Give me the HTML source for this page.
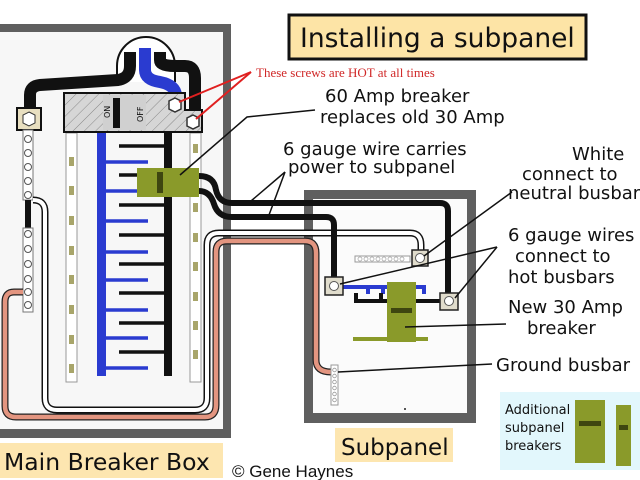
<!DOCTYPE html>
<html><head><meta charset="utf-8"><style>
html,body{margin:0;padding:0;background:#fff;}
svg{display:block}
text{font-family:"DejaVu Sans","Liberation Sans",sans-serif;fill:#111}
</style></head><body>
<svg width="640" height="480" viewBox="0 0 640 480" xmlns="http://www.w3.org/2000/svg">
<defs>
<pattern id="h" width="8" height="8" patternUnits="userSpaceOnUse" patternTransform="rotate(45)">
<rect width="8" height="8" fill="#d6d6d6"/><line x1="0" y1="0" x2="0" y2="8" stroke="#888" stroke-width="1"/>
</pattern>
</defs>
<!-- main box -->
<rect x="-10" y="24" width="241" height="414" fill="#5f5f5f"/>
<rect x="0" y="32" width="223" height="397" fill="#f7f7f7"/>
<!-- subpanel -->
<rect x="304" y="190" width="172" height="233" fill="#5f5f5f"/>
<rect x="313" y="199" width="154" height="214" fill="#fbfbfb"/>
<!-- top circle -->
<path d="M117 82 V66 A29 29 0 1 1 175 66 V82" fill="#fff" stroke="#111" stroke-width="2"/>
<!-- black incoming wires -->
<path d="M30 112 V95 Q30 86 40 85 L118 80 Q130 78 130 66 V52" fill="none" stroke="#111" stroke-width="12"/>
<path d="M160 52 V60 Q160 66 175 66 H185 Q195 66 195 78 V116" fill="none" stroke="#111" stroke-width="12"/>
<path d="M145 48 V70 Q145 80 160 82 Q175 85 176 95" fill="none" stroke="#2a3bd0" stroke-width="12"/>
<!-- neutral bar -->
<rect x="17" y="108" width="24" height="22" fill="#e8dfc0" stroke="#111" stroke-width="2"/>
<polygon points="29,112 35,115 35,123 29,126 23,123 23,115" fill="#fff" stroke="#333"/>
<rect x="23" y="130" width="10" height="70" fill="#fff" stroke="#777"/>
<g fill="none" stroke="#555"><circle cx="28" cy="139" r="3.5"/><circle cx="28" cy="153" r="3.5"/><circle cx="28" cy="167" r="3.5"/><circle cx="28" cy="181" r="3.5"/><circle cx="28" cy="195" r="3.5"/></g>
<rect x="25" y="200" width="6" height="28" fill="#111"/>
<rect x="23" y="228" width="10" height="84" fill="#fff" stroke="#777"/>
<g fill="none" stroke="#555"><circle cx="28" cy="234" r="3.5"/><circle cx="28" cy="249" r="3.5"/><circle cx="28" cy="264" r="3.5"/><circle cx="28" cy="279" r="3.5"/><circle cx="28" cy="292" r="3.5"/><circle cx="28" cy="305" r="3.5"/></g>
<!-- strips -->
<rect x="66" y="133" width="11" height="249" fill="#fff" stroke="#999"/>
<rect x="190" y="133" width="11" height="249" fill="#fff" stroke="#999"/>
<g fill="#a8a56a">
<rect x="69" y="157" width="5" height="9"/><rect x="69" y="186" width="5" height="9"/><rect x="69" y="216" width="5" height="9"/><rect x="69" y="246" width="5" height="9"/><rect x="69" y="275" width="5" height="9"/><rect x="69" y="305" width="5" height="9"/><rect x="69" y="335" width="5" height="9"/><rect x="69" y="364" width="5" height="9"/>
<rect x="193" y="144" width="5" height="9"/><rect x="193" y="203" width="5" height="9"/><rect x="193" y="233" width="5" height="9"/><rect x="193" y="262" width="5" height="9"/><rect x="193" y="292" width="5" height="9"/><rect x="193" y="321" width="5" height="9"/><rect x="193" y="350" width="5" height="9"/>
</g>
<!-- buses -->
<rect x="97" y="133" width="9" height="243" fill="#2a3bd0"/>
<g stroke="#2a3bd0" stroke-width="3.5">
<line x1="106" y1="162" x2="148" y2="162"/><line x1="106" y1="191" x2="148" y2="191"/><line x1="106" y1="221" x2="148" y2="221"/><line x1="106" y1="252" x2="148" y2="252"/><line x1="106" y1="280" x2="148" y2="280"/><line x1="106" y1="310" x2="148" y2="310"/><line x1="106" y1="338" x2="148" y2="338"/><line x1="106" y1="368" x2="148" y2="368"/>
</g>
<rect x="164" y="133" width="8" height="243" fill="#111"/>
<g stroke="#111" stroke-width="3.5">
<line x1="119" y1="146" x2="168" y2="146"/><line x1="119" y1="175" x2="168" y2="175"/><line x1="119" y1="205" x2="168" y2="205"/><line x1="119" y1="235" x2="168" y2="235"/><line x1="119" y1="264" x2="168" y2="264"/><line x1="119" y1="293" x2="168" y2="293"/><line x1="119" y1="323" x2="168" y2="323"/><line x1="119" y1="352" x2="168" y2="352"/>
</g>
<!-- main breaker -->
<path d="M64 93 H185 V110 H202 V132 H64 Z" fill="url(#h)" stroke="#111" stroke-width="2"/>
<rect x="103" y="95" width="43" height="35" fill="#d0d0d0"/>
<rect x="113" y="98" width="7" height="30" fill="#111"/>
<text x="0" y="0" font-size="8" transform="translate(110,118) rotate(-90)">ON</text>
<text x="0" y="0" font-size="8" transform="translate(143,122) rotate(-90)">OFF</text>
<polygon points="175,98 181,101 181,109 175,112 169,109 169,101" fill="#fff" stroke="#333" stroke-width="1.5"/>
<polygon points="193,115 199,118 199,126 193,129 187,126 187,118" fill="#fff" stroke="#333" stroke-width="1.5"/>
<!-- white wire -->
<path d="M33 200 Q45 200 45 212 V398 Q45 410 57 410 H195 Q207 410 207 398 V245 Q207 233 219 233 H410 Q421 233 421 245 V252" fill="none" stroke="#111" stroke-width="7"/>
<path d="M33 200 Q45 200 45 212 V398 Q45 410 57 410 H195 Q207 410 207 398 V245 Q207 233 219 233 H410 Q421 233 421 245 V252" fill="none" stroke="#fff" stroke-width="4"/>
<!-- copper wire -->
<path d="M23 292 H14 Q5 292 5 302 V406 Q5 417 16 417 H205 Q216 417 216 405 V252 Q216 241 227 241 H305 Q316 241 316 253 V360 Q316 372 331 372" fill="none" stroke="#222" stroke-width="7"/>
<path d="M23 292 H14 Q5 292 5 302 V406 Q5 417 16 417 H205 Q216 417 216 405 V252 Q216 241 227 241 H305 Q316 241 316 253 V360 Q316 372 331 372" fill="none" stroke="#e39580" stroke-width="4.5"/>
<!-- black feed wires -->
<path d="M199 176 Q214 176 216 190 Q219 203 232 203 H440 Q448 203 448 211 V296" fill="none" stroke="#111" stroke-width="6"/>
<path d="M199 191 Q210 191 214 204 Q218 217 232 217 H326 Q334 217 334 225 V280" fill="none" stroke="#111" stroke-width="6"/>
<!-- green breaker -->
<rect x="137" y="168" width="62" height="29" fill="#8a9a2a"/>
<rect x="157" y="172" width="6" height="21" fill="#3e4610"/>
<!-- subpanel internals -->
<rect x="355" y="256" width="55" height="6" fill="#fff" stroke="#999"/>
<g fill="none" stroke="#aaa" stroke-width="0.8"><circle cx="360" cy="259" r="2"/><circle cx="366" cy="259" r="2"/><circle cx="372" cy="259" r="2"/><circle cx="378" cy="259" r="2"/><circle cx="384" cy="259" r="2"/><circle cx="390" cy="259" r="2"/><circle cx="396" cy="259" r="2"/><circle cx="402" cy="259" r="2"/></g>
<rect x="331" y="365" width="7" height="40" fill="#fff" stroke="#999"/>
<g fill="none" stroke="#999" stroke-width="0.8"><circle cx="334.5" cy="370" r="1.8"/><circle cx="334.5" cy="376" r="1.8"/><circle cx="334.5" cy="382" r="1.8"/><circle cx="334.5" cy="388" r="1.8"/><circle cx="334.5" cy="394" r="1.8"/><circle cx="334.5" cy="400" r="1.8"/></g>
<path d="M343 287 H424 V294 M368 287 V294 M383 287 V294" fill="none" stroke="#2a3bd0" stroke-width="4"/>
<path d="M356 293 V301 H442 M381 293 V301" fill="none" stroke="#111" stroke-width="4"/>
<rect x="353" y="337" width="75" height="4" fill="#8a9a2a"/>
<rect x="387" y="282" width="29" height="60" fill="#8a9a2a"/>
<rect x="391" y="308" width="21" height="5" fill="#3e4610"/>
<g fill="#e0dccc" stroke="#222" stroke-width="1.5">
<rect x="412" y="250" width="16" height="16"/><rect x="325" y="277" width="18" height="18"/><rect x="440" y="293" width="18" height="17"/>
</g>
<g fill="#fff" stroke="#555"><circle cx="420" cy="258" r="4.5"/><circle cx="334" cy="286" r="4.5"/><circle cx="449" cy="301" r="4.5"/></g>
<circle cx="405" cy="409" r="1" fill="#222"/>
<!-- leader lines -->
<g stroke="#111" stroke-width="1.5" fill="none">
<polyline points="180,175 247,117 315,110"/>
<line x1="285" y1="172" x2="251" y2="201"/><line x1="285" y1="172" x2="269" y2="215"/>
<line x1="512" y1="192" x2="424" y2="256"/>
<line x1="497" y1="247" x2="340" y2="284"/><line x1="497" y1="247" x2="455" y2="298"/>
<line x1="405" y1="327" x2="506" y2="324"/>
<line x1="338" y1="372" x2="492" y2="364"/>
</g>
<g stroke="#e02020" stroke-width="2"><line x1="251" y1="72" x2="179" y2="102"/><line x1="251" y1="72" x2="196" y2="119"/></g>
<!-- title -->
<rect x="289" y="15" width="297" height="44" fill="#fde4a6" stroke="#111" stroke-width="3"/>
<text x="300" y="47" font-size="26.5">Installing a subpanel</text>
<text x="256" y="77" font-size="13" style="fill:#d02828;font-family:'Liberation Serif',serif">These screws are HOT at all times</text>
<g font-size="18">
<text x="325" y="102">60 Amp breaker</text>
<text x="320" y="123">replaces old 30 Amp</text>
<text x="283" y="155">6 gauge wire carries</text>
<text x="288" y="173">power to subpanel</text>
<text x="572" y="160">White</text>
<text x="522" y="180">connect to</text>
<text x="508" y="199">neutral busbar</text>
<text x="508" y="241">6 gauge wires</text>
<text x="515" y="262">connect to</text>
<text x="508" y="283">hot busbars</text>
<text x="508" y="313">New 30 Amp</text>
<text x="527" y="334">breaker</text>
<text x="496" y="371">Ground busbar</text>
</g>
<!-- labels -->
<rect x="0" y="443" width="223" height="35" fill="#fde6b0"/>
<text x="4" y="470" font-size="23.5">Main Breaker Box</text>
<rect x="335" y="428" width="118" height="34" fill="#fde6b0"/>
<text x="341" y="455" font-size="23">Subpanel</text>
<text x="232" y="477" font-size="17" style="font-family:'Liberation Sans',sans-serif">© Gene Haynes</text>
<!-- additional -->
<rect x="500" y="392" width="140" height="78" fill="#e2f7fc"/>
<g font-size="13"><text x="505" y="414">Additional</text><text x="505" y="432">subpanel</text><text x="505" y="450">breakers</text></g>
<rect x="575" y="400" width="30" height="63" fill="#8a9a2a"/>
<rect x="579" y="421" width="22" height="5" fill="#3e4610"/>
<rect x="616" y="405" width="15" height="61" fill="#8a9a2a"/>
<rect x="619" y="425" width="9" height="5" fill="#3e4610"/>
</svg>
</body></html>
